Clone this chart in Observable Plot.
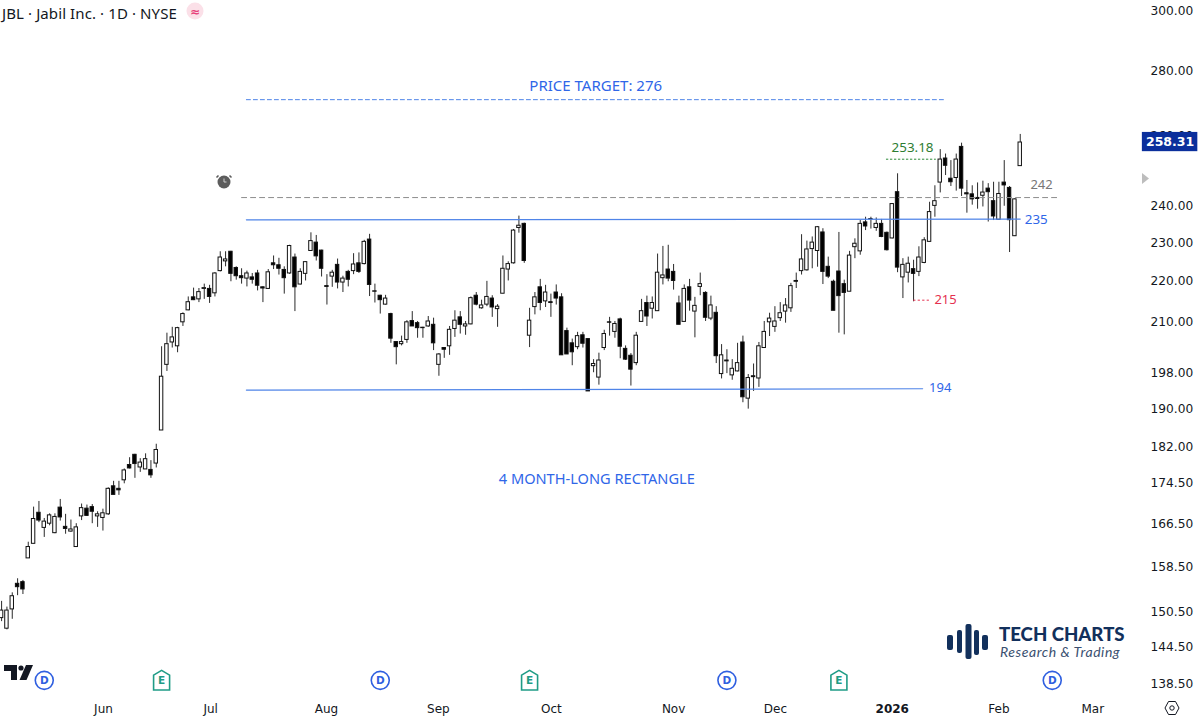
<!DOCTYPE html>
<html>
<head>
<meta charset="utf-8">
<script src="https://cdn.jsdelivr.net/npm/d3@7"></script>
<script src="https://cdn.jsdelivr.net/npm/@observablehq/plot@0.6"></script>
<style>
html,body{margin:0;padding:0;background:#fff;overflow:hidden}
#wrap{position:relative;width:1200px;height:721px}
#title{position:absolute;left:2px;top:3px;font:15px "Noto Sans",sans-serif;color:#131722;white-space:nowrap;letter-spacing:.1px}
#deco{position:absolute;left:0;top:0;pointer-events:none}
</style>
</head>
<body>
<div id="wrap">
<div id="chart"></div>
<div id="title">JBL · Jabil Inc. · 1D · NYSE</div>
<svg id="deco" width="1200" height="721">
  <circle cx="195" cy="11" r="8.5" fill="#fbe0e8"/>
  <text x="195" y="15.5" text-anchor="middle" font-family="DejaVu Sans" font-size="12" font-weight="bold" fill="#e8417a">≈</text>
  <!-- TradingView mark -->
  <path d="M4 665h13v15h-6v-9h-7z" fill="#131722"/>
  <circle cx="21" cy="668" r="2.6" fill="#131722"/>
  <path d="M26 665h7l-6.5 15h-7z" fill="#131722"/>
  <!-- alarm -->
  <circle cx="224" cy="182" r="6.5" fill="#5d5d5d"/>
  <path d="M224 178.500v3.500h2.500" fill="none" stroke="#cfcfcf" stroke-width="1"/>
  <path d="M218.500 175.500l-2 2M229.500 175.500l2 2" stroke="#5d5d5d" stroke-width="1.6"/>
  <!-- right axis arrow -->
  <path d="M1142 173l7 5.500-7 5.500z" fill="#bdbdbd"/>
  <!-- settings -->
  <path d="M1165 708l3.500-6.500h7l3.500 6.500-3.500 6.500h-7z" fill="none" stroke="#131722" stroke-width="1"/>
  <circle cx="1172" cy="708" r="2.200" fill="none" stroke="#131722" stroke-width="1"/>
  <!-- Tech Charts logo -->
  <g fill="#12305c">
    <rect x="947" y="635" width="6" height="15" rx="2"/>
    <rect x="957" y="630" width="5" height="23" rx="2"/>
    <rect x="965.500" y="624" width="6" height="35" rx="2"/>
    <rect x="974" y="630" width="5" height="25" rx="2"/>
    <rect x="982" y="635" width="6" height="15" rx="2"/>
  </g>
  <text x="999" y="641" font-family="Lato" font-weight="900" font-size="18.600" fill="#12305c">TECH CHARTS</text>
  <text x="1000" y="656.500" font-family="Lato" font-style="italic" font-size="14" letter-spacing=".55" fill="#3a4f70">Research &amp; Trading</text>
</svg>
</div>
<script>
const open = [
149.3,147.5,150.8,155.3,155.6,159.9,162.6,168.5,165.6,166.4,
164.6,169.5,165.8,164.9,162,167.8,169.3,169.6,167.8,167.5,
168.2,173.7,173.2,174.9,178,180.1,177.5,177.1,177,178.3,
185.2,199.7,204.9,204,209.7,212.6,215.8,215.3,217.9,217.9,
216.8,222.4,224.9,227.4,223.2,221.1,220.5,220.8,221.8,218.3,
217.9,224.4,223.9,222.7,221.8,225.9,219,221.7,227.6,229.8,
227.7,218.6,221,224,219.5,222.2,222.4,224.4,224.2,230.6,
217.3,216.2,214,211.7,205,204.5,205.5,210,209.5,208.4,
208.7,209.1,199.7,203.6,204,208.1,210.9,208.7,209.2,216.2,
213.1,214,215.5,212.9,216.7,222.8,224.4,233.7,234.8,206.5,
213.4,218.3,214.8,214.6,217,215.8,207.6,204.7,203.8,206.6,
205.7,199.4,196.8,203.6,209.7,207.4,210.4,203.4,201.8,200.1,
209.8,214.4,213,212.4,220.6,222.8,222.2,214.3,209.8,218.3,
212.3,218.4,216.9,210.6,212,197.6,200.7,197.3,198.2,204.9,
192.1,197.1,196.6,203.6,209.7,208.6,210.7,212.3,213.1,219.9,
222.4,222.6,228.1,227.6,232.5,223.5,219.7,222.3,219.1,217.2,
228.6,227.5,235.2,236,233.7,234.8,232.4,230.9,243.5,220.8,
222,222.9,222.2,224.5,230,239.7,246.2,253.1,247.3,247.5,
256.5,243.2,242.9,241.9,242.5,244.5,241,235.9,246.2,244.7,
231.5,250.9];
const close = [
150.6,150.6,153.1,154.7,154.3,162,167.3,167,166.8,168,
167.7,167.6,165.4,165.3,165.7,169.4,167.9,168.7,168.2,168.4,
173.2,172,172.9,176.9,177.3,178.2,178.5,179.2,175.9,181.1,
197,204.5,206.1,208.3,211.7,214.6,215.1,217.1,218.1,215.9,
221.8,225.9,225.4,221.7,221.1,220.6,221.8,220.2,218.7,218,
222.1,223.9,223,220.6,228.9,218.3,222.2,224.7,230.2,226.2,
223,218.4,222,219.5,220.5,220.2,224.1,222.2,230,218.9,
217.2,215.1,215.5,205.8,203.8,205,209.7,208.7,208.3,208.3,
209.9,204.7,202.1,203.2,207.9,210.1,209.1,209.2,215.6,214,
213.8,215.9,213.3,213.5,223,224.2,233,234.3,225,210.1,
215.8,214.4,217,214.4,215.5,201.9,202.1,202.6,206.4,204.6,
193.7,199.9,200.7,206.9,209.6,209.3,203.9,200.9,198.6,206.5,
212.4,211.1,214.4,222,221.3,220.5,219.9,209.1,217.9,215,
213.7,219.1,210.8,213.8,201.7,201.9,200.5,198.8,200.1,192.4,
196.7,196.9,204,207.4,210.6,209.9,211.9,213.8,218.6,219.7,
225.4,228,229.8,233.9,222.2,221,212.5,216.1,216.9,226.4,
229.5,234.8,234.1,236.1,234.8,231.3,227.8,240.2,223.3,224,
224.3,221.7,225.9,230.4,238,241,252.8,251,246.3,252.8,
244.5,242.9,241.5,241.6,243.4,243.5,236.8,243,245.4,235.8,
241.5,257.8];
const high = [
152.2,151.2,153.7,156.2,155.9,162.9,169.6,170.7,167.4,168.3,
168.3,171.1,168.2,167.1,166.4,170.2,170,170.1,168.7,169.2,
173.4,174.7,174.7,177.2,179.5,180.2,179.3,180.3,178.9,182.3,
203.9,207.1,208.5,208.5,212,215.9,218.1,218,219.1,218.8,
222,227.4,227.4,227.5,223.5,223,222.4,221.8,222.6,218.4,
222.8,226.3,225.7,223.5,229.1,226.8,223,224.8,232.4,231.7,
227.8,221.5,222.6,225.5,221.1,222.6,226.9,227.1,230.4,232,
219.1,216.3,216.3,211.9,205.1,206.4,210.1,212.3,209.9,208.5,
211.1,210.7,202.3,203.7,208.7,212.5,212.3,209.9,215.9,217,
215.1,219.8,216.2,214,226.3,224.8,233.3,236.9,235,213.1,
217,220.3,218.8,216.6,218.9,216.7,208.3,205.7,207.3,207.3,
205.7,200.9,202.4,207.8,210.9,209.9,210.7,204.1,202.3,207.3,
215.3,216.1,215.9,226.8,228.8,229.1,224.1,216.1,218.9,220.3,
215.8,221.9,217.2,216.1,213.5,204.4,203.2,200.9,204.7,206.4,
197.5,199.9,204.9,209.9,211.9,213.5,214.5,215.5,219.3,221.9,
231.9,230.2,231.3,234.1,233.5,226,220.1,232.5,220.1,227.5,
230.8,235.7,236.6,236.6,236.4,236,232.6,240.3,248.7,225.6,
226,225.2,228.7,231.1,240.7,245.3,255.7,254.4,252.5,254.4,
257.6,246.8,245.3,246.1,246.6,245.9,246.3,246.3,252.5,245.1,
241.7,260.2];
const low = [
148.7,147.3,149.1,153.2,153.4,159.9,162.6,166.6,163.8,166,
164.5,166.9,164.4,164.8,162,167,167.8,166.4,165.7,165,
168,172,171.9,174.2,177.2,175.3,176.5,177.1,175.3,177.4,
185.2,198.2,203.6,202.5,208.7,212.5,215,214.5,215.3,214.3,
215.9,222.2,223.5,219.7,220.1,219.1,218.4,219.1,217.4,214.5,
217.8,222.8,221.4,216.6,221.6,212.3,218.9,219.9,227.6,225,
220.9,213.9,218.3,217.9,217,218.4,221.5,221.8,224,216,
214.4,211.7,213.9,204.7,199.7,204.1,204.7,208.7,205.9,205.9,
208.5,203,197.1,201.2,201.9,206.1,206.9,206.6,209.1,213.7,
212.9,213.5,210.9,208.5,216.7,219.9,224.2,232.3,224.4,203.7,
211.5,212.5,213.3,210.9,213.9,201.9,202.1,199.5,203.2,203.6,
193.7,197.9,195.1,203,206.4,205.9,201.1,200.7,194.9,199.5,
209.8,208.7,210.5,212.4,218.9,219.7,217.6,209.1,209.8,212.4,
206,216.2,209.9,210.1,200,196.5,197.7,196.2,198.1,191.2,
189.8,193.7,194.6,203.5,206.3,207.3,209.9,209.5,212.1,218,
221.4,222.4,223,223.4,219,220.5,212.5,207.1,206.7,217.2,
225.6,226.5,233,233.4,232.8,231.1,227.6,230.8,222,215.5,
219.4,214.7,221,224.3,229.9,236.6,243.3,248.2,245.1,243.8,
242.3,237.7,239.9,238.8,239.4,235.3,235.7,235.8,239.6,227.2,
231.4,250.9];

const priceTicks = [300,280,260,240,230,220,210,198,190,182,174.5,166.5,158.5,150.5,144.5,138.5];
const monthNames = ["Jun","Jul","Aug","Sep","Oct","Nov","Dec","Feb","Mar"];
const monthBars = [19.1,39.2,60.9,81.9,103.1,126,145.1,187,204.6];
const yearBar = [167];
const dividendBars = [8,71,136,197];
const earningsBars = [30,99,157];
const eventLevel = 139;

const candles = open.map((o,i)=>({i,o,c:close[i],h:high[i],l:low[i],up:close[i]>=o}));
const W = 0.32;
const ink = "#111";
const houseSymbol = {draw(ctx,size){
  const r=Math.sqrt(size/Math.PI);
  ctx.moveTo(0,-r*1.25);ctx.lineTo(r,-r*0.65);ctx.lineTo(r,r*1.2);ctx.lineTo(-r,r*1.2);ctx.lineTo(-r,-r*0.65);ctx.closePath();
}};
const note = (i,p,t,fill,extra={}) => Plot.text([0],{x:()=>i,y:()=>p,text:()=>t,fill,fontSize:14.6,fontFamily:"Noto Sans",...extra});
const blue="#2f66e8", lineBlue="#4f84e8";

const plot = Plot.plot({
  width:1200,height:721,marginLeft:0,marginRight:56,marginTop:10,marginBottom:38,
  style:{background:"#fff",fontFamily:"'DejaVu Sans',sans-serif",color:"#131722"},
  x:{domain:[-0.206,214.3],axis:null},
  y:{type:"log",domain:[138.5,300],axis:null},
  marks:[
    Plot.axisY(priceTicks,{anchor:"right",tickSize:0,tickPadding:6,dy:1,label:null,fontSize:12.2,tickFormat:d=>d.toFixed(2)}),
    Plot.axisX(monthBars,{anchor:"bottom",tickSize:0,tickPadding:21,label:null,fontSize:12,tickFormat:d=>monthNames[monthBars.indexOf(d)]}),
    Plot.axisX(yearBar,{anchor:"bottom",tickSize:0,tickPadding:21,label:null,fontSize:12,fontWeight:"bold",tickFormat:()=>"2026"}),
    Plot.ruleX(candles,{x:"i",y1:"l",y2:"h",stroke:"#2a2a2a",strokeWidth:1}),
    Plot.rect(candles,{x1:d=>d.i-W,x2:d=>d.i+W,y1:"o",y2:"c",fill:d=>d.up?"#fff":"#000",stroke:ink,strokeWidth:1}),
    Plot.line([[45.9,270.8],[176.6,270.8]],{stroke:lineBlue,strokeWidth:1,strokeDasharray:"4,3"}),
    Plot.line([[45,242],[198.2,242]],{stroke:"#8c8c8c",strokeWidth:1,strokeDasharray:"5,4"}),
    Plot.line([[45.9,235.9],[191,236.1]],{stroke:lineBlue,strokeWidth:1.2}),
    Plot.line([[45.9,194],[172.7,194.3]],{stroke:lineBlue,strokeWidth:1.2}),
    Plot.line([[165.9,252.9],[175.1,252.9]],{stroke:"#2e8b3a",strokeWidth:1,strokeDasharray:"1.500,2.500"}),
    Plot.line([[171,215.1],[173.8,215.1]],{stroke:"#e5304f",strokeWidth:1,strokeDasharray:"1.500,3"}),
    note(111.4,274.9,"PRICE TARGET: 276",blue,{fontSize:15}),
    note(111.6,175.1,"4 MONTH-LONG RECTANGLE",blue),
    note(170.8,256.3,"253.18","#2e7d32",{fontSize:13.4}),
    note(195,245.6,"242","#777",{fontSize:13}),
    note(194,236,"235",blue,{fontSize:13.4}),
    note(176,194.6,"194",blue,{fontSize:13}),
    note(177,215.1,"215","#e5304f",{fontSize:13}),
    Plot.dot(dividendBars,{x:d=>d,y:()=>eventLevel,r:9,stroke:"#2f5fe0",strokeWidth:1.6,fill:"#fff"}),
    Plot.text(dividendBars,{x:d=>d,y:()=>eventLevel,text:()=>"D",fill:"#2f5fe0",fontSize:10.5,fontWeight:"bold"}),
    Plot.dot(earningsBars,{x:d=>d,y:()=>eventLevel,r:8,symbol:houseSymbol,stroke:"#1f9c86",strokeWidth:1.6,fill:"#fff"}),
    Plot.text(earningsBars,{x:d=>d,y:()=>eventLevel,text:()=>"E",fill:"#1f9c86",fontSize:10.5,fontWeight:"bold"}),
    Plot.rect([0],{x1:()=>213.9,x2:()=>224.3,y1:()=>255.1,y2:()=>260.8,fill:"#0b2f9c"}),
    Plot.text([0],{x:()=>219.1,y:()=>258,text:()=>"258.31",fill:"#fff",fontSize:12.5,fontWeight:"bold"})
  ]
});
document.getElementById("chart").appendChild(plot);
</script>
</body>
</html>
